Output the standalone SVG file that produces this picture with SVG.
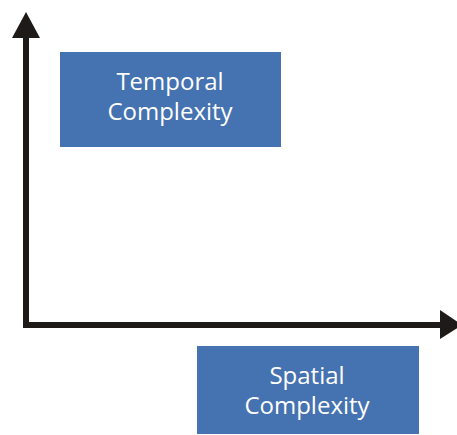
<svg xmlns="http://www.w3.org/2000/svg" width="457" height="435" viewBox="0 0 457 435">
  <style>
    .box { fill: #4572B0; }
    .label { fill: #ffffff; font-family: "Open Sans", "Liberation Sans", sans-serif; font-size: 24px; text-anchor: middle; }
    .axis { fill: #1E1A17; }
  </style>
  <rect width="457" height="435" fill="#ffffff"/>
  <g id="axes">
    <!-- vertical axis -->
    <rect class="axis" x="23" y="36" width="6" height="292"/>
    <polygon class="axis" points="26,12 40,38 12,38"/>
    <!-- horizontal axis -->
    <rect class="axis" x="23" y="322" width="419" height="6"/>
    <polygon class="axis" points="440,310 462,325 440,339"/>
  </g>
  <g id="temporal">
    <rect class="box" x="60" y="52" width="221" height="95"/>
    <text class="label" x="170" y="90">Temporal</text>
    <text class="label" x="170" y="120">Complexity</text>
  </g>
  <g id="spatial">
    <rect class="box" x="197" y="346" width="222" height="88"/>
    <text class="label" x="307" y="384">Spatial</text>
    <text class="label" x="307" y="414">Complexity</text>
  </g>
</svg>
